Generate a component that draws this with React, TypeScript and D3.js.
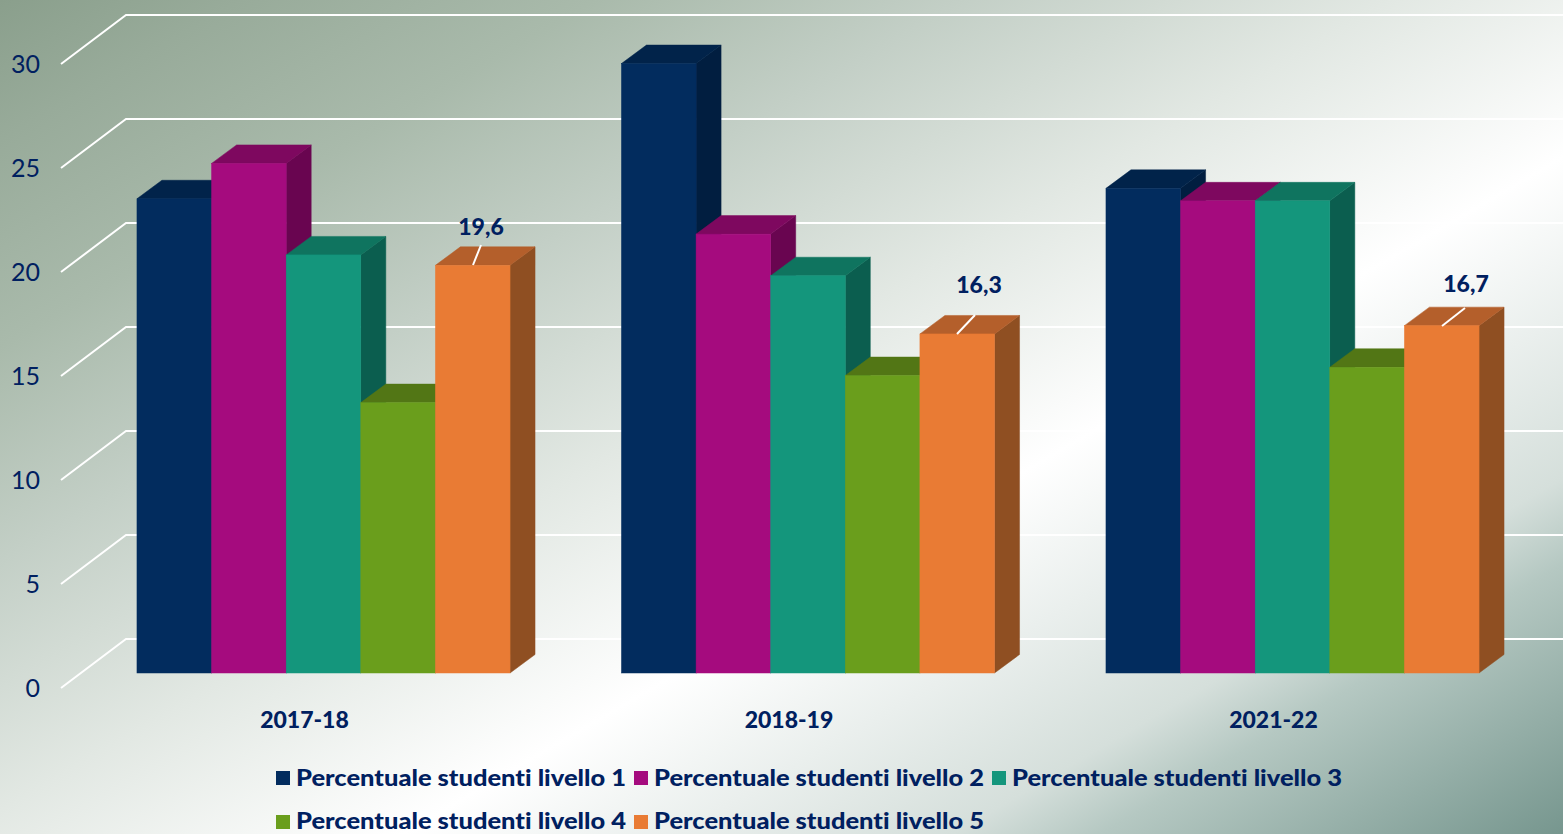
import React from 'react';
import * as d3 from 'd3';

const categories = ['2017-18', '2018-19', '2021-22'];
const seriesNames = [
  'Percentuale studenti livello 1',
  'Percentuale studenti livello 2',
  'Percentuale studenti livello 3',
  'Percentuale studenti livello 4',
  'Percentuale studenti livello 5',
];
const livello1 = [22.8, 29.3, 23.3];
const livello2 = [24.5, 21.1, 22.7];
const livello3 = [20.1, 19.1, 22.7];
const livello4 = [13.0, 14.3, 14.7];
const livello5 = [19.6, 16.3, 16.7];
const seriesValues = [livello1, livello2, livello3, livello4, livello5];
const labelTexts = ['19,6', '16,3', '16,7'];
const yTicks = [0, 5, 10, 15, 20, 25, 30];

const frontColors = ['#022c5e', '#a50b7e', '#14967c', '#6a9e1c', '#e97b34'];
const topColors = ['#01234a', '#7e085f', '#0f745f', '#527615', '#b45f2b'];
const sideColors = ['#011e40', '#690550', '#0b5e4f', '#466512', '#8f4f22'];

// background stops, measured along the gradient direction
const bgStops: [number, string][] = [
  [0, '#8a9f8c'],
  [121, '#98ab9a'],
  [300, '#a9baab'],
  [484, '#c3cfc6'],
  [700, '#e2e8e3'],
  [923, '#ffffff'],
  [1200, '#d5dfdb'],
  [1274, '#b5c8c2'],
  [1509, '#76968e'],
];

const W = 1563;
const H = 834;
const TEXT = '#002060';
const FONT = 'Lato, "Open Sans", sans-serif';

// front plane of the bars, the wall is pushed back from it
const y = d3.scaleLinear().domain([0, 30]).range([673, 49]);
const x0 = d3.scaleBand<string>().domain(categories).range([81.25, 1534.75]).paddingInner(0.23).paddingOuter(0.115);
const x1 = d3.scaleBand<number>().domain(d3.range(5)).range([0, x0.bandwidth()]);

const barDx = 25;
const barDy = -18.5;
const axisDx = 65;
const axisX = 61;
const axisDy = 15; // tick ends sit below the bar front plane
const wallDy = -34;

const leaders = [
  { x1: 473, y1: 265, x2: 481, y2: 245, tx: 481, ty: 227 },
  { x1: 957, y1: 334, x2: 975, y2: 315, tx: 979, ty: 285 },
  { x1: 1442, y1: 326, x2: 1465, y2: 308, tx: 1466, ty: 284 },
];

const legendPos = [
  { x: 276, y: 778, base: 786 },
  { x: 634, y: 778, base: 786 },
  { x: 992, y: 778, base: 786 },
  { x: 276, y: 822, base: 829 },
  { x: 634, y: 822, base: 829 },
];

export default function App() {
  return (
    <svg width={W} height={H} style={{ position: 'absolute', left: 0, top: 0, fontVariantLigatures: 'none' }}>
      <defs>
        <linearGradient id="bg" gradientUnits="userSpaceOnUse" x1="0" y1="0" x2="760.5" y2="1304">
          {bgStops.map(([p, c]) => (
            <stop key={p} offset={p / 1509} stopColor={c} />
          ))}
        </linearGradient>
      </defs>
      <rect width={W} height={H} fill="url(#bg)" />

      {yTicks.map((t) => (
        <g key={t}>
          <polyline
            points={`${axisX},${y(t) + axisDy} ${axisX + axisDx},${y(t) + wallDy} ${W},${y(t) + wallDy}`}
            fill="none"
            stroke="#fff"
            strokeWidth={2}
          />
          <text x={40} y={y(t) + axisDy + 9} textAnchor="end" fontFamily={FONT} fontWeight={400} fontSize={25} fill={TEXT}>
            {t}
          </text>
        </g>
      ))}

      {categories.map((c, ci) => (
        <g key={c} transform={`translate(${x0(c)},0)`}>
          {seriesValues.map((vals, si) => {
            const bx = x1(si) as number;
            const bw = x1.bandwidth();
            const top = y(vals[ci]);
            const base = y(0);
            return (
              <g key={si}>
                <path
                  d={`M${bx + bw},${top}L${bx + bw + barDx},${top + barDy}L${bx + bw + barDx},${base + barDy}L${bx + bw},${base}Z`}
                  fill={sideColors[si]}
                  stroke={sideColors[si]}
                  strokeWidth={0.5}
                />
                <path
                  d={`M${bx},${top}L${bx + barDx},${top + barDy}L${bx + bw + barDx},${top + barDy}L${bx + bw},${top}Z`}
                  fill={topColors[si]}
                  stroke={topColors[si]}
                  strokeWidth={0.5}
                />
                <rect x={bx} y={top} width={bw} height={base - top} fill={frontColors[si]} stroke={frontColors[si]} strokeWidth={0.5} />
              </g>
            );
          })}
        </g>
      ))}

      {categories.map((c, ci) => {
        const l = leaders[ci];
        return (
          <g key={c}>
            <text x={(x0(c) as number) + x0.bandwidth() / 2 - 19} y={728} textAnchor="middle" fontFamily={FONT} fontWeight={900} fontSize={23} fill={TEXT}>
              {c}
            </text>
            <line x1={l.x1} y1={l.y1} x2={l.x2} y2={l.y2} stroke="#fff" strokeWidth={2} />
            <text x={l.tx} y={l.ty + 8} textAnchor="middle" fontFamily={FONT} fontWeight={900} fontSize={23} fill={TEXT}>
              {labelTexts[ci]}
            </text>
          </g>
        );
      })}

      {seriesNames.map((name, i) => (
        <g key={name}>
          <rect x={legendPos[i].x} y={legendPos[i].y - 7} width={14} height={14} fill={frontColors[i]} />
          <text x={legendPos[i].x + 20} y={legendPos[i].base} textLength={330} lengthAdjust="spacingAndGlyphs" fontFamily={FONT} fontWeight={900} fontSize={22.5} fill={TEXT}>
            {name}
          </text>
        </g>
      ))}
    </svg>
  );
}
